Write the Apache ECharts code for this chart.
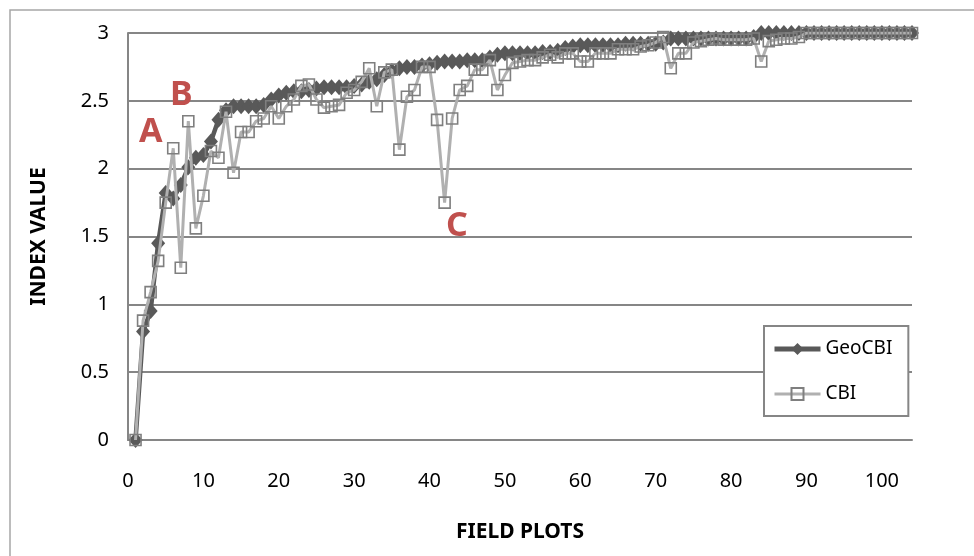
<!DOCTYPE html>
<html>
<head>
<meta charset="utf-8">
<script src="https://cdn.jsdelivr.net/npm/echarts@6/dist/echarts.min.js"></script>
<style>
  html, body { margin: 0; padding: 0; background: #fff; }
  #chart { width: 974px; height: 556px; }
</style>
</head>
<body>
<div id="chart"></div>
<script>
// Field plot numbers (x) and the two burn-severity indices measured on each plot
const fieldPlots = [
  1, 2, 3, 4, 5, 6, 7, 8, 9, 10, 11, 12, 13, 14, 15, 16, 17, 18, 19, 20,
  21, 22, 23, 24, 25, 26, 27, 28, 29, 30, 31, 32, 33, 34, 35, 36, 37, 38, 39, 40,
  41, 42, 43, 44, 45, 46, 47, 48, 49, 50, 51, 52, 53, 54, 55, 56, 57, 58, 59, 60,
  61, 62, 63, 64, 65, 66, 67, 68, 69, 70, 71, 72, 73, 74, 75, 76, 77, 78, 79, 80,
  81, 82, 83, 84, 85, 86, 87, 88, 89, 90, 91, 92, 93, 94, 95, 96, 97, 98, 99, 100,
  101, 102, 103, 104
];

const geoCBI = [
  0.00, 0.80, 0.95, 1.45, 1.82, 1.78, 1.88, 2.01, 2.08, 2.10,
  2.20, 2.36, 2.43, 2.46, 2.46, 2.46, 2.46, 2.47, 2.51, 2.54,
  2.56, 2.57, 2.57, 2.58, 2.59, 2.60, 2.60, 2.60, 2.60, 2.61,
  2.62, 2.64, 2.66, 2.69, 2.72, 2.74, 2.75, 2.75, 2.76, 2.77,
  2.78, 2.79, 2.79, 2.79, 2.80, 2.80, 2.80, 2.82, 2.84, 2.85,
  2.85, 2.85, 2.85, 2.85, 2.86, 2.86, 2.87, 2.89, 2.90, 2.91,
  2.91, 2.91, 2.91, 2.91, 2.91, 2.92, 2.92, 2.92, 2.92, 2.92,
  2.93, 2.96, 2.96, 2.96, 2.96, 2.96, 2.96, 2.96, 2.96, 2.96,
  2.96, 2.96, 2.97, 3.00, 3.00, 3.00, 3.00, 3.00, 3.00, 3.00,
  3.00, 3.00, 3.00, 3.00, 3.00, 3.00, 3.00, 3.00, 3.00, 3.00,
  3.00, 3.00, 3.00, 3.00
];

const cbi = [
  0.00, 0.88, 1.09, 1.32, 1.75, 2.15, 1.27, 2.35, 1.56, 1.80,
  2.13, 2.08, 2.42, 1.97, 2.27, 2.27, 2.35, 2.37, 2.46, 2.37,
  2.46, 2.51, 2.61, 2.62, 2.51, 2.45, 2.46, 2.47, 2.56, 2.58,
  2.64, 2.74, 2.46, 2.71, 2.73, 2.14, 2.53, 2.58, 2.75, 2.75,
  2.36, 1.75, 2.37, 2.58, 2.61, 2.73, 2.73, 2.80, 2.58, 2.69,
  2.78, 2.79, 2.80, 2.80, 2.82, 2.84, 2.82, 2.85, 2.85, 2.79,
  2.79, 2.85, 2.85, 2.85, 2.88, 2.88, 2.88, 2.90, 2.91, 2.93,
  2.97, 2.74, 2.85, 2.85, 2.93, 2.94, 2.95, 2.96, 2.95, 2.95,
  2.95, 2.95, 2.96, 2.79, 2.94, 2.95, 2.96, 2.96, 2.97, 3.00,
  3.00, 3.00, 3.00, 3.00, 3.00, 3.00, 3.00, 3.00, 3.00, 3.00,
  3.00, 3.00, 3.00, 3.00
];

const seriesNames = ['GeoCBI', 'CBI'];
const xAxisTitle = 'FIELD PLOTS';
const yAxisTitle = 'INDEX VALUE';
const callouts = ['A', 'B', 'C'];

const FONT = '"Noto Sans", "Open Sans", sans-serif';
const GRID_GRAY = '#868686';
const GEO_COLOR = '#595959';
const CBI_LINE = '#b0b0b0';

const pairs = (ys) => fieldPlots.map((x, i) => [x, ys[i]]);

const chart = echarts.init(document.getElementById('chart'), null, { renderer: 'canvas' });

chart.setOption({
  animation: false,
  backgroundColor: '#fff',
  textStyle: { fontFamily: FONT },
  grid: { left: 128, right: 62, top: 33, bottom: 116, containLabel: false },
  legend: {
    orient: 'vertical',
    left: 764,
    top: 326,
    padding: [12, 16, 11, 8],
    itemWidth: 46,
    itemHeight: 15,
    itemGap: 23,
    backgroundColor: '#fff',
    borderColor: GRID_GRAY,
    borderWidth: 2,
    textStyle: { fontFamily: FONT, fontSize: 19, color: '#000', lineHeight: 22 },
    data: [
      { name: seriesNames[0], lineStyle: { width: 5, color: GEO_COLOR } },
      { name: seriesNames[1], lineStyle: { width: 3, color: CBI_LINE } }
    ]
  },
  xAxis: {
    type: 'value',
    min: 0,
    max: 104,
    interval: 10,
    name: xAxisTitle,
    nameLocation: 'middle',
    nameGap: 82,
    nameTextStyle: { fontFamily: FONT, fontSize: 21, fontWeight: 'bold', color: '#000' },
    axisLine: { show: true, lineStyle: { color: GRID_GRAY, width: 2 } },
    axisTick: { show: false },
    splitLine: { show: false },
    axisLabel: {
      margin: 31,
      fontSize: 20,
      color: '#000',
      fontFamily: FONT,
      formatter: (v) => (v % 10 === 0 ? String(v) : '')
    }
  },
  yAxis: {
    type: 'value',
    min: 0,
    max: 3,
    interval: 0.5,
    name: yAxisTitle,
    nameLocation: 'middle',
    nameRotate: 90,
    nameGap: 78,
    nameTextStyle: { fontFamily: FONT, fontSize: 21, fontWeight: 'bold', color: '#000' },
    axisLine: { show: true, lineStyle: { color: GRID_GRAY, width: 2 } },
    axisTick: { show: false },
    splitLine: { show: true, lineStyle: { color: GRID_GRAY, width: 2 } },
    axisLabel: { margin: 19, fontSize: 20, color: '#000', fontFamily: FONT }
  },
  series: [
    {
      name: seriesNames[0],
      type: 'line',
      data: pairs(geoCBI),
      showAllSymbol: true,
      symbol: 'diamond',
      symbolSize: [14, 16],
      itemStyle: { color: GEO_COLOR },
      lineStyle: { color: GEO_COLOR, width: 4.5 },
      z: 2
    },
    {
      name: seriesNames[1],
      type: 'line',
      data: pairs(cbi),
      showAllSymbol: true,
      symbol: 'rect',
      symbolSize: 11,
      itemStyle: { color: 'rgba(255,255,255,0)', borderColor: '#7f7f7f', borderWidth: 1.6 },
      lineStyle: { color: CBI_LINE, width: 3 },
      z: 3
    }
  ],
  graphic: [
    {
      type: 'rect',
      silent: true,
      shape: { x: 10, y: 10, width: 1000, height: 600 },
      style: { fill: 'none', stroke: '#a6a6a6', lineWidth: 1.5 }
    },
    {
      type: 'text', silent: true, z: 10, left: 139, top: 115,
      style: { text: callouts[0], fill: '#c0504d', font: 'bold 34px "Noto Sans"' }
    },
    {
      type: 'text', silent: true, z: 10, left: 170, top: 78,
      style: { text: callouts[1], fill: '#c0504d', font: 'bold 34px "Noto Sans"' }
    },
    {
      type: 'text', silent: true, z: 10, left: 446, top: 209,
      style: { text: callouts[2], fill: '#c0504d', font: 'bold 34px "Noto Sans"' }
    }
  ]
});
</script>
</body>
</html>
